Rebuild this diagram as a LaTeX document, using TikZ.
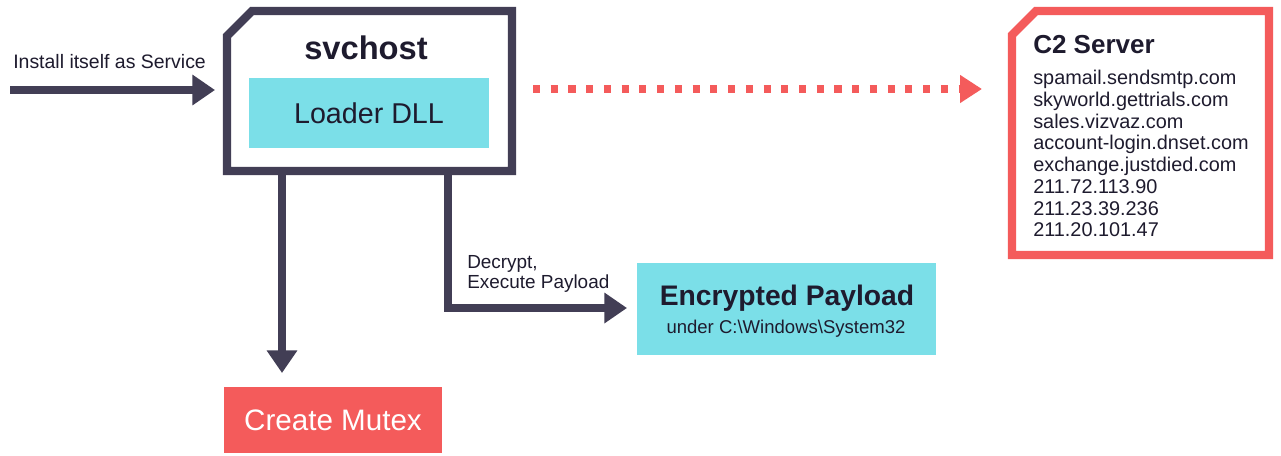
\documentclass[tikz,border=0pt]{standalone}
\usepackage{fontspec}
\setmainfont{Liberation Sans}
\usetikzlibrary{arrows.meta,calc}
\definecolor{navy}{HTML}{423E55}
\definecolor{cyanbox}{HTML}{7BDFE8}
\definecolor{redc}{HTML}{F45B5B}
\definecolor{txt}{HTML}{1E1B2E}
\tikzset{
  frame/.style={line width=6.3pt, line join=miter},
  darkarrow/.style={navy, line width=5.3pt, -{Triangle[length=17pt,width=22pt]}},
  redarrow/.style={redc, line width=5.6pt, dash pattern=on 5.3pt off 8pt, -{Triangle[length=16.5pt,width=20pt]}},
  label/.style={text=txt, inner sep=0pt, align=left},
  hidden/.style={inner sep=0pt, outer sep=0pt}
}
\begin{document}
\begin{tikzpicture}[x=0.75pt,y=-0.75pt]
\useasboundingbox (0,0) rectangle (1281,455);
\fill[white] (0,0) rectangle (1281,455);

% svchost frame
\node[hidden, minimum width=213.75pt, minimum height=120pt] (svc) at (369.5,91) {};
\draw[frame, navy] ($(svc.north west)+(0,25)$) -- ($(svc.north west)+(25,0)$) -- (svc.north east) -- (svc.south east) -- (svc.south west) -- cycle;
\node[text=txt, font=\fontsize{24.5}{28}\selectfont\bfseries, inner sep=0pt] (svctitle) at (366,48) {svchost};
\node[fill=cyanbox, minimum width=180pt, minimum height=52.5pt, inner sep=0pt, text=txt, font=\fontsize{21.5}{25}\selectfont] (loader) at (369,113) {Loader DLL};

% C2 server frame
\node[hidden, minimum width=192.75pt, minimum height=183pt] (c2) at (1140.5,133) {};
\draw[frame, redc] ($(c2.north west)+(0,24)$) -- ($(c2.north west)+(24,0)$) -- (c2.north east) -- (c2.south east) -- (c2.south west) -- cycle;
\node[text=txt, font=\fontsize{19.5}{23}\selectfont\bfseries, inner sep=0pt, anchor=base west] (c2title) at (1033,53) {C2 Server};
\node[text=txt, font=\fontsize{14.9}{16.3}\selectfont, inner sep=0pt, align=left, anchor=north west] (c2list) at (1033,70)
 {spamail.sendsmtp.com\\skyworld.gettrials.com\\sales.vizvaz.com\\account-login.dnset.com\\exchange.justdied.com\\211.72.113.90\\211.23.39.236\\211.20.101.47};

% Create Mutex
\node[fill=redc, minimum width=163.5pt, minimum height=49.5pt, inner sep=0pt, text=white, font=\fontsize{22.2}{25}\selectfont] (mutex) at (333,420) {Create Mutex};

% Encrypted Payload
\node[fill=cyanbox, minimum width=224.25pt, minimum height=69pt, inner sep=0pt] (enc) at (786.5,309) {};
\node[text=txt, font=\fontsize{21.2}{24}\selectfont\bfseries, inner sep=0pt] (enctitle) at (787,298) {Encrypted Payload};
\node[text=txt, font=\fontsize{13.9}{16}\selectfont, inner sep=0pt] (encsub) at (786,329) {under C:\textbackslash Windows\textbackslash System32};

% coordinates
\coordinate (instart) at (10,90);
\coordinate (inend) at (215,90);
\coordinate (mtxtop) at (282,373);
\coordinate (dectop) at (448,171);
\coordinate (decend) at (627,308);
\coordinate (c2start) at (533,89);
\coordinate (c2end) at (982,89);

% connectors
\draw[darkarrow] (instart) -- (inend);
\node[label, font=\fontsize{14.6}{16}\selectfont, anchor=base west] (installlbl) at (13,68) {Install itself as Service};
\draw[darkarrow] (svc.south -| mtxtop) -- (mtxtop);
\draw[darkarrow, line join=miter] (svc.south -| dectop) -- (dectop |- decend) -- (decend);
\node[label, font=\fontsize{14.2}{15.5}\selectfont, anchor=north west] (declbl) at (467,255) {Decrypt,\\Execute Payload};
\draw[redarrow] (c2start) -- (c2end);
\end{tikzpicture}
\end{document}
